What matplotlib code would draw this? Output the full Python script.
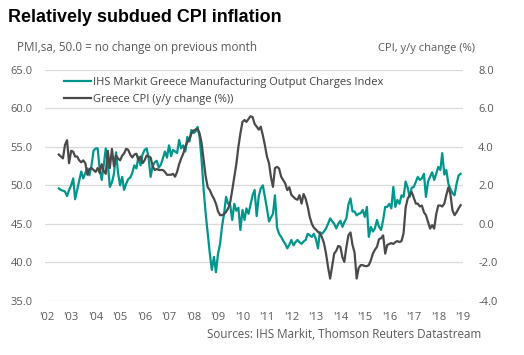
import numpy as np
import pandas as pd
import matplotlib
matplotlib.use("Agg")
import matplotlib.pyplot as plt
import matplotlib.dates as mdates

plt.rcParams['font.family'] = ['Open Sans', 'DejaVu Sans']
plt.rcParams['axes.unicode_minus'] = False

# monthly data, Jul 2002 - Dec 2018
dates = pd.date_range('2002-07-01', periods=198, freq='MS')

pmi_output_charges = [
    49.6, 49.4, 49.3, 49.2, 48.6, 49.4,
    50.0, 50.9, 48.2, 49.4, 50.6, 51.8, 50.9, 51.6, 52.2, 51.3, 52.6, 54.5,
    54.8, 54.8, 52.2, 50.7, 52.6, 54.8, 52.8, 49.8, 50.4, 51.5, 54.3, 51.6,
    50.0, 51.1, 49.4, 50.2, 50.8, 51.0, 51.6, 52.6, 52.2, 53.7, 52.6, 54.0,
    54.6, 54.8, 53.7, 51.1, 52.5, 53.0, 53.2, 52.3, 52.7, 53.5, 54.4, 53.6,
    55.2, 53.8, 54.6, 54.4, 54.2, 55.9, 54.8, 55.2, 54.4, 56.3, 55.7, 57.2,
    56.8, 57.0, 57.6, 56.3, 53.3, 49.4, 46.3, 43.7, 41.1, 39.0, 40.7, 38.7,
    41.1, 42.4, 44.6, 46.3, 48.5, 47.6, 47.5, 45.5, 47.6, 46.7, 47.1, 44.2,
    46.8, 45.5, 47.0, 46.3, 47.5, 48.7, 49.4, 46.0, 48.6, 49.6, 50.0, 48.5,
    47.0, 45.3, 45.8, 46.3, 48.7, 44.5, 43.7, 43.3, 42.8, 42.4, 41.8, 42.3,
    42.9, 42.2, 42.6, 42.9, 42.6, 42.4, 42.7, 42.9, 43.7, 43.5, 43.3, 43.7,
    43.0, 41.8, 43.9, 43.7, 44.0, 44.4, 45.0, 45.7, 45.3, 45.0, 44.4, 45.0,
    45.4, 44.6, 45.2, 45.7, 47.5, 48.3, 46.6, 46.6, 46.1, 46.3, 46.4, 46.8,
    45.9, 47.2, 43.3, 44.6, 44.0, 44.4, 45.5, 44.6, 44.2, 45.5, 47.2, 47.2,
    47.6, 47.0, 49.8, 47.2, 48.1, 47.6, 48.7, 48.5, 50.5, 49.7, 48.5, 49.7,
    49.8, 50.5, 51.1, 50.7, 50.9, 51.5, 48.5, 50.5, 51.1, 51.7, 50.7, 51.5,
    52.4, 52.0, 54.2, 51.4, 52.0, 50.2, 49.5, 49.0, 48.7, 50.2, 51.3, 51.5,
]

greece_cpi = [
    3.6, 3.5, 3.4, 4.1, 4.35, 3.15,
    3.8, 3.75, 3.5, 3.5, 3.3, 3.2, 3.3, 3.15, 2.55, 2.85, 2.9, 2.8,
    2.7, 2.9, 2.65, 3.1, 2.75, 2.6, 3.8, 2.9, 3.9, 3.0, 3.55, 3.4,
    3.3, 3.55, 3.65, 3.9, 3.85, 3.6, 3.45, 3.6, 3.65, 3.3, 3.5, 3.15,
    3.3, 3.55, 3.5, 3.45, 3.0, 2.8, 2.85, 2.8, 2.8, 2.8, 2.7, 2.55,
    2.55, 2.55, 2.6, 2.45, 2.7, 3.1, 3.4, 3.65, 4.0, 4.25, 4.4, 4.7,
    4.85, 4.9, 4.95, 4.7, 4.2, 3.3, 2.45, 1.9, 1.75, 1.5, 1.3, 1.05,
    0.65, 0.45, 0.45, 0.5, 0.62, 0.8, 1.1, 1.75, 2.45, 3.1, 4.0, 4.7,
    5.3, 5.4, 5.3, 5.45, 5.6, 5.55, 5.2, 5.05, 4.9, 5.05, 4.6, 4.1,
    3.5, 3.15, 2.45, 1.92, 2.9, 2.96, 2.88, 2.45, 2.27, 2.1, 1.75, 1.9,
    1.5, 1.4, 1.3, 1.25, 1.49, 1.05, 1.55, 1.3, 0.88, 0.36, 0.0, -0.2,
    -0.3, -0.42, -0.5, -0.7, -1.0, -1.55, -2.25, -2.85, -2.2, -1.55, -1.4, -1.15,
    -1.2, -1.75, -1.98, -1.2, -0.6, -0.45, -1.1, -1.5, -2.85, -2.3, -2.15, -2.15,
    -2.2, -2.2, -2.15, -1.9, -1.55, -1.35, -1.2, -0.8, -0.75, -0.6, -1.55, -1.1,
    -1.05, -1.0, -1.05, -0.95, -0.9, -0.95, -0.9, -0.5, 0.85, 1.3, 1.5, 1.65,
    1.35, 1.05, 1.05, 0.9, 0.95, 0.6, 0.45, 0.1, -0.25, -0.07, -0.25, 0.5,
    0.95, 0.95, 0.9, 1.05, 1.5, 1.9, 1.55, 0.7, 0.45, 0.6, 0.8, 0.97,
]

years = list(range(2002, 2020))
pmi_ticks = [35, 40, 45, 50, 55, 60, 65]
cpi_ticks = [-4, -2, 0, 2, 4, 6, 8]

teal = '#00968c'
dark = '#4a4a4a'
txt = '#595959'

fig = plt.figure(figsize=(5.24, 3.55), dpi=100)
ax = fig.add_axes([45/524, 1 - 300.7/355, 418/524, 230.7/355])
ax2 = ax.twinx()

l1, = ax.plot(dates, pmi_output_charges, color=teal, lw=1.6)
l2, = ax2.plot(dates, greece_cpi, color=dark, lw=1.6)

ax.set_ylim(35, 65)
ax2.set_ylim(-4, 8)
ax.set_yticks(pmi_ticks)
ax.set_yticklabels([f'{v:.1f}' for v in pmi_ticks])
ax2.set_yticks(cpi_ticks)
ax2.set_yticklabels([f'{v:.1f}' for v in cpi_ticks])

tick_dates = [pd.Timestamp(f'{y}-01-01') for y in years]
ax.set_xticks(tick_dates)
ax.set_xticklabels([f"'{y % 100:02d}" for y in years])
ax.set_xlim(pd.Timestamp('2001-12-07'), pd.Timestamp('2019-01-05'))

ax.grid(axis='y', color='#d9d9d9', lw=0.9)
ax.set_axisbelow(True)
for a in (ax, ax2):
    for s in a.spines.values():
        s.set_visible(False)
    a.tick_params(length=0, colors=txt, labelsize=8)
ax.tick_params(axis='y', pad=9)
ax.tick_params(axis='x', pad=8)
ax2.tick_params(axis='y', pad=11)

leg = ax2.legend([l1, l2],
                 ['IHS Markit Greece Manufacturing Output Charges Index',
                  'Greece CPI (y/y change (%))'],
                 loc='upper left', bbox_to_anchor=(0.03, 1.0),
                 frameon=False, fontsize=8, handlelength=2.4,
                 handletextpad=0.2, labelspacing=0.55, borderaxespad=0.2)
for t in leg.get_texts():
    t.set_color('#404040')

fig.text(8/524, 1 - 18/355, 'Relatively subdued CPI inflation',
         fontsize=12.9, fontweight='bold', family='Liberation Sans',
         va='center', ha='left', color='black')
fig.text(17/524, 1 - 48/355, 'PMI,sa, 50.0 = no change on previous month',
         fontsize=8.4, color=txt, va='center', ha='left')
fig.text(475/524, 1 - 48/355, 'CPI, y/y change (%)',
         fontsize=8, color=txt, va='center', ha='right')
fig.text(481/524, 1 - 334/355, 'Sources: IHS Markit, Thomson Reuters Datastream',
         fontsize=8.4, color=txt, va='center', ha='right')

fig.savefig('out.png', dpi=100)
